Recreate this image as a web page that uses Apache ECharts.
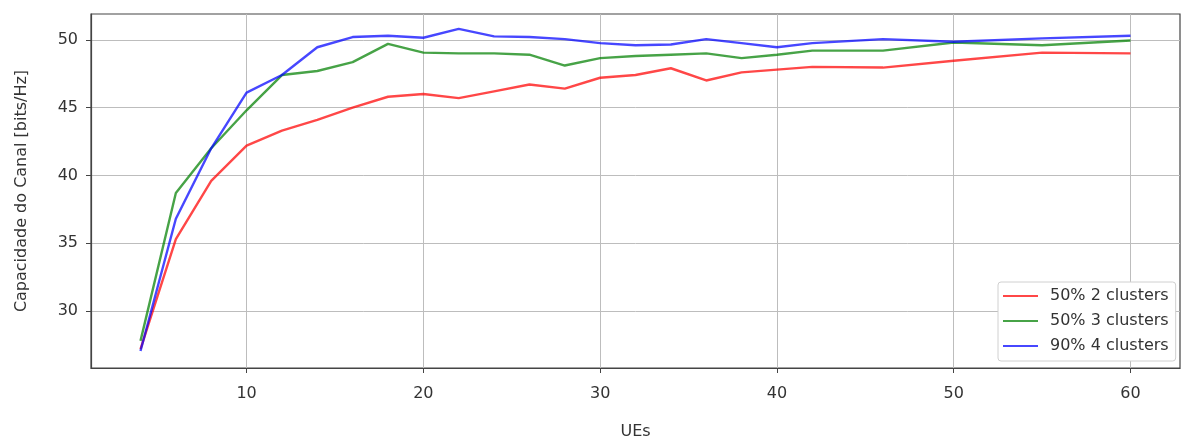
<!DOCTYPE html>
<html>
<head>
<meta charset="utf-8">
<title>Capacidade do Canal vs UEs</title>
<script src="https://cdn.jsdelivr.net/npm/echarts@6/dist/echarts.min.js"></script>
<style>
  html, body { margin: 0; padding: 0; background: #fff; }
  #chart { width: 1183px; height: 441px; }
</style>
</head>
<body>
<div id="chart"></div>
<script>
// Number of user equipments (x axis)
const ues = [4, 6, 8, 10, 12, 14, 16, 18, 20, 22, 24, 26, 28, 30, 32, 34, 36, 38, 40, 42, 46, 50, 55, 60];

// Channel capacity [bits/Hz] per configuration
const cap50p2 = [27.2, 35.3, 39.6, 42.2, 43.3, 44.1, 45.0, 45.8, 46.0, 45.7, 46.2, 46.7, 46.4, 47.2, 47.4, 47.9, 47.0, 47.6, 47.8, 48.0, 47.95, 48.45, 49.05, 49.0];
const cap50p3 = [27.8, 38.7, 42.0, 44.8, 47.4, 47.7, 48.35, 49.7, 49.05, 49.0, 49.0, 48.9, 48.1, 48.65, 48.8, 48.9, 49.0, 48.65, 48.9, 49.2, 49.2, 49.8, 49.6, 49.95];
const cap90p4 = [27.05, 36.8, 42.0, 46.1, 47.4, 49.45, 50.2, 50.3, 50.15, 50.8, 50.25, 50.2, 50.05, 49.75, 49.6, 49.65, 50.05, 49.75, 49.45, 49.75, 50.05, 49.85, 50.1, 50.3];

const seriesNames = ['50% 2 clusters', '50% 3 clusters', '90% 4 clusters'];

// Tick positions
const xTicks = [10, 20, 30, 40, 50, 60];
const yTicks = [30, 35, 40, 45, 50];

const colors = ['rgba(255,0,0,0.72)', 'rgba(0,128,0,0.72)', 'rgba(0,0,255,0.72)'];
const pairs = (ys) => ues.map((x, i) => [x, ys[i]]);

const chart = echarts.init(document.getElementById('chart'), null, { renderer: 'canvas' });

const textColor = '#333';
const font = 'DejaVu Sans';
const fontSize = 16;

chart.setOption({
  animation: false,
  backgroundColor: '#fff',
  grid: {
    left: 91, top: 14, right: 3, bottom: 73,
    outerBoundsMode: 'none',
    show: true, borderColor: '#444', borderWidth: 1.2, backgroundColor: 'transparent'
  },
  xAxis: {
    type: 'value',
    min: 1.2, max: 62.8,
    name: 'UEs',
    nameLocation: 'middle',
    nameGap: 56,
    nameTextStyle: { color: textColor, fontFamily: font, fontSize: fontSize },
    axisLine: { show: true, lineStyle: { color: '#444', width: 1.2 } },
    axisTick: { show: true, length: 5, lineStyle: { color: '#444' }, customValues: xTicks },
    axisLabel: { color: textColor, fontFamily: font, fontSize: fontSize, margin: 18, customValues: xTicks },
    splitLine: { show: true, lineStyle: { color: '#bdbdbd', width: 1 } }
  },
  yAxis: {
    type: 'value',
    min: 25.8, max: 51.9,
    name: 'Capacidade do Canal [bits/Hz]',
    nameLocation: 'middle',
    nameGap: 61,
    nameTextStyle: { color: textColor, fontFamily: font, fontSize: fontSize },
    axisLine: { show: true, lineStyle: { color: '#444', width: 1.2 } },
    axisTick: { show: true, length: 5, lineStyle: { color: '#444' }, customValues: yTicks },
    axisLabel: { color: textColor, fontFamily: font, fontSize: fontSize, margin: 13, customValues: yTicks },
    splitLine: { show: true, lineStyle: { color: '#bdbdbd', width: 1 } }
  },
  legend: {
    orient: 'vertical',
    left: 998, top: 282,
    backgroundColor: '#fff',
    borderColor: '#d0d0d0', borderWidth: 1, borderRadius: 3,
    padding: [5, 7, 6, 5],
    itemWidth: 35, itemHeight: 2, itemGap: 7,
    icon: 'rect',
    textStyle: { color: textColor, fontFamily: font, fontSize: fontSize, lineHeight: 18, padding: [0, 0, 0, 7] },
    data: seriesNames
  },
  series: [
    { name: seriesNames[0], type: 'line', data: pairs(cap50p2), showSymbol: false, color: colors[0], lineStyle: { width: 2.4, color: colors[0] } },
    { name: seriesNames[1], type: 'line', data: pairs(cap50p3), showSymbol: false, color: colors[1], lineStyle: { width: 2.4, color: colors[1] } },
    { name: seriesNames[2], type: 'line', data: pairs(cap90p4), showSymbol: false, color: colors[2], lineStyle: { width: 2.4, color: colors[2] } }
  ]
});
</script>
</body>
</html>
